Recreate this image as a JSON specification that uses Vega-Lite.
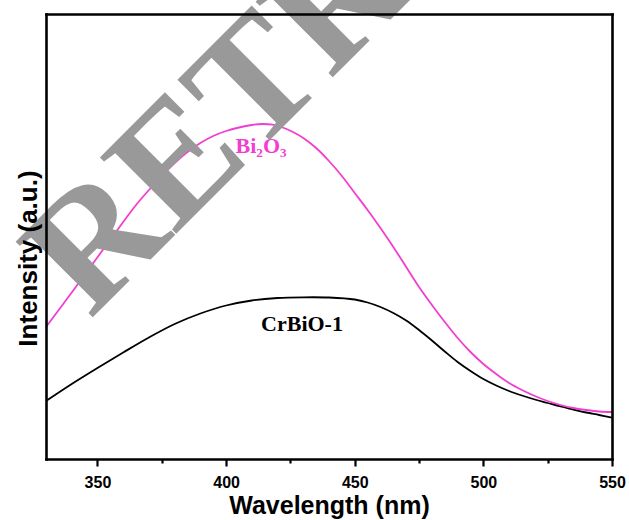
{
  "$schema": "https://vega.github.io/schema/vega-lite/v6.json",
  "autosize": "none",
  "width": 566,
  "height": 445,
  "padding": {"left": 46, "top": 14, "right": 17, "bottom": 61},
  "background": "white",
  "config": {"view": {"stroke": null}, "font": "Liberation Sans"},
  "datasets": {
    "spectra": [
      {"w": 330, "v": 58, "s": "CrBiO-1"},
      {"w": 340, "v": 75, "s": "CrBiO-1"},
      {"w": 350, "v": 91, "s": "CrBiO-1"},
      {"w": 360, "v": 106.5, "s": "CrBiO-1"},
      {"w": 370, "v": 121.5, "s": "CrBiO-1"},
      {"w": 380, "v": 135, "s": "CrBiO-1"},
      {"w": 390, "v": 145.5, "s": "CrBiO-1"},
      {"w": 400, "v": 153.5, "s": "CrBiO-1"},
      {"w": 410, "v": 158.5, "s": "CrBiO-1"},
      {"w": 420, "v": 161, "s": "CrBiO-1"},
      {"w": 430, "v": 161.7, "s": "CrBiO-1"},
      {"w": 440, "v": 161.5, "s": "CrBiO-1"},
      {"w": 450, "v": 159.5, "s": "CrBiO-1"},
      {"w": 455, "v": 156.5, "s": "CrBiO-1"},
      {"w": 460, "v": 152, "s": "CrBiO-1"},
      {"w": 465, "v": 146, "s": "CrBiO-1"},
      {"w": 470, "v": 138.5, "s": "CrBiO-1"},
      {"w": 475, "v": 129, "s": "CrBiO-1"},
      {"w": 480, "v": 118.5, "s": "CrBiO-1"},
      {"w": 485, "v": 107.5, "s": "CrBiO-1"},
      {"w": 490, "v": 97, "s": "CrBiO-1"},
      {"w": 495, "v": 88, "s": "CrBiO-1"},
      {"w": 500, "v": 80, "s": "CrBiO-1"},
      {"w": 505, "v": 73.5, "s": "CrBiO-1"},
      {"w": 510, "v": 68, "s": "CrBiO-1"},
      {"w": 515, "v": 63.5, "s": "CrBiO-1"},
      {"w": 520, "v": 59.5, "s": "CrBiO-1"},
      {"w": 525, "v": 56, "s": "CrBiO-1"},
      {"w": 530, "v": 52.5, "s": "CrBiO-1"},
      {"w": 535, "v": 49.5, "s": "CrBiO-1"},
      {"w": 540, "v": 46.5, "s": "CrBiO-1"},
      {"w": 545, "v": 44, "s": "CrBiO-1"},
      {"w": 550, "v": 41.3, "s": "CrBiO-1"},
      {"w": 330, "v": 132, "s": "Bi2O3"},
      {"w": 340, "v": 166.5, "s": "Bi2O3"},
      {"w": 350, "v": 201.7, "s": "Bi2O3"},
      {"w": 360, "v": 237, "s": "Bi2O3"},
      {"w": 365, "v": 254, "s": "Bi2O3"},
      {"w": 370, "v": 269, "s": "Bi2O3"},
      {"w": 375, "v": 283, "s": "Bi2O3"},
      {"w": 380, "v": 296, "s": "Bi2O3"},
      {"w": 385, "v": 307, "s": "Bi2O3"},
      {"w": 390, "v": 316, "s": "Bi2O3"},
      {"w": 395, "v": 323, "s": "Bi2O3"},
      {"w": 400, "v": 328, "s": "Bi2O3"},
      {"w": 405, "v": 331.5, "s": "Bi2O3"},
      {"w": 410, "v": 334, "s": "Bi2O3"},
      {"w": 414, "v": 335, "s": "Bi2O3"},
      {"w": 418, "v": 334.3, "s": "Bi2O3"},
      {"w": 422, "v": 331.5, "s": "Bi2O3"},
      {"w": 426, "v": 327, "s": "Bi2O3"},
      {"w": 430, "v": 321, "s": "Bi2O3"},
      {"w": 435, "v": 311, "s": "Bi2O3"},
      {"w": 440, "v": 298, "s": "Bi2O3"},
      {"w": 445, "v": 283, "s": "Bi2O3"},
      {"w": 450, "v": 266, "s": "Bi2O3"},
      {"w": 455, "v": 249, "s": "Bi2O3"},
      {"w": 460, "v": 231, "s": "Bi2O3"},
      {"w": 465, "v": 212, "s": "Bi2O3"},
      {"w": 470, "v": 192, "s": "Bi2O3"},
      {"w": 475, "v": 172, "s": "Bi2O3"},
      {"w": 480, "v": 154, "s": "Bi2O3"},
      {"w": 485, "v": 137, "s": "Bi2O3"},
      {"w": 490, "v": 121, "s": "Bi2O3"},
      {"w": 495, "v": 107, "s": "Bi2O3"},
      {"w": 500, "v": 95, "s": "Bi2O3"},
      {"w": 505, "v": 85, "s": "Bi2O3"},
      {"w": 510, "v": 76, "s": "Bi2O3"},
      {"w": 515, "v": 69, "s": "Bi2O3"},
      {"w": 520, "v": 63, "s": "Bi2O3"},
      {"w": 525, "v": 58, "s": "Bi2O3"},
      {"w": 530, "v": 54, "s": "Bi2O3"},
      {"w": 535, "v": 51, "s": "Bi2O3"},
      {"w": 540, "v": 49, "s": "Bi2O3"},
      {"w": 545, "v": 47.5, "s": "Bi2O3"},
      {"w": 550, "v": 47, "s": "Bi2O3"}
    ],
    "labels": [
      {"w": 413.6, "v": 306, "t": "Bi₂O₃", "s": "Bi2O3"},
      {"w": 429.5, "v": 128, "t": "CrBiO-1", "s": "CrBiO-1"}
    ],
    "stamp": [
      {"w": 347.1, "v": 139, "t": "RETRACTED"}
    ]
  },
  "layer": [
    {
      "data": {"name": "spectra"},
      "mark": {"type": "line", "strokeWidth": 1.8, "interpolate": "catmull-rom"},
      "encoding": {
        "x": {
          "field": "w", "type": "quantitative",
          "scale": {"domain": [330, 550], "nice": false, "zero": false},
          "axis": {
            "orient": "bottom", "values": [350, 400, 450, 500, 550],
            "grid": false, "zindex": 1,
            "domainColor": "black", "domainWidth": 2.6, "domainCap": "square",
            "tickColor": "black", "tickWidth": 2.2, "tickSize": 7,
            "labelFont": "Liberation Sans", "labelFontWeight": "bold", "labelFontSize": 16,
            "labelColor": "black", "labelBaseline": "alphabetic", "labelPadding": 21,
            "labelFlush": false,
            "title": "Wavelength (nm)", "titleFont": "Liberation Sans", "titleFontWeight": "bold",
            "titleFontSize": 25, "titleColor": "black", "titleBaseline": "alphabetic",
            "titleY": 54
          }
        },
        "y": {
          "field": "v", "type": "quantitative",
          "scale": {"domain": [0, 445], "nice": false, "zero": false},
          "axis": {
            "orient": "left", "grid": false, "ticks": false, "labels": false, "zindex": 1,
            "domainColor": "black", "domainWidth": 2.6, "domainCap": "square",
            "title": "Intensity (a.u.)", "titleFont": "Liberation Sans", "titleFontWeight": "bold",
            "titleFontSize": 26, "titleColor": "black", "titleBaseline": "alphabetic",
            "titleAngle": 270, "titleAlign": "center", "titleX": -10, "titleY": 244
          }
        },
        "color": {
          "field": "s", "type": "nominal",
          "scale": {"domain": ["Bi2O3", "CrBiO-1"], "range": ["#f23ed0", "#000000"]},
          "legend": null
        }
      }
    },
    {
      "data": {"name": "labels"},
      "mark": {"type": "text", "font": "Liberation Serif", "fontWeight": "bold", "fontSize": 22, "align": "center", "baseline": "alphabetic"},
      "encoding": {
        "x": {
          "field": "w", "type": "quantitative",
          "axis": {"orient": "top", "grid": false, "ticks": false, "labels": false, "title": null, "zindex": 1,
                   "domainColor": "black", "domainWidth": 2.6, "domainCap": "square"}
        },
        "y": {
          "field": "v", "type": "quantitative",
          "axis": {"orient": "right", "grid": false, "ticks": false, "labels": false, "title": null, "zindex": 1,
                   "domainColor": "black", "domainWidth": 2.6, "domainCap": "square"}
        },
        "text": {"field": "t", "type": "nominal"},
        "color": {
          "field": "s", "type": "nominal",
          "scale": {"domain": ["Bi2O3", "CrBiO-1"], "range": ["#e5137c", "#000000"]},
          "legend": null
        }
      }
    },
    {
      "data": {"name": "stamp"},
      "mark": {"type": "text", "font": "Liberation Serif", "fontWeight": "bold", "fontSize": 165, "align": "left", "baseline": "alphabetic", "angle": -45, "color": "#999999"},
      "encoding": {
        "x": {
          "field": "w", "type": "quantitative",
          "axis": {"orient": "bottom", "values": [375, 425, 475, 525], "grid": false, "domain": false, "labels": false,
                   "title": null, "tickColor": "black", "tickWidth": 2.2, "tickSize": 4, "zindex": 1}
        },
        "y": {"field": "v", "type": "quantitative", "axis": null},
        "text": {"field": "t", "type": "nominal"}
      }
    }
  ],
  "resolve": {"axis": {"x": "independent", "y": "independent"}}
}
